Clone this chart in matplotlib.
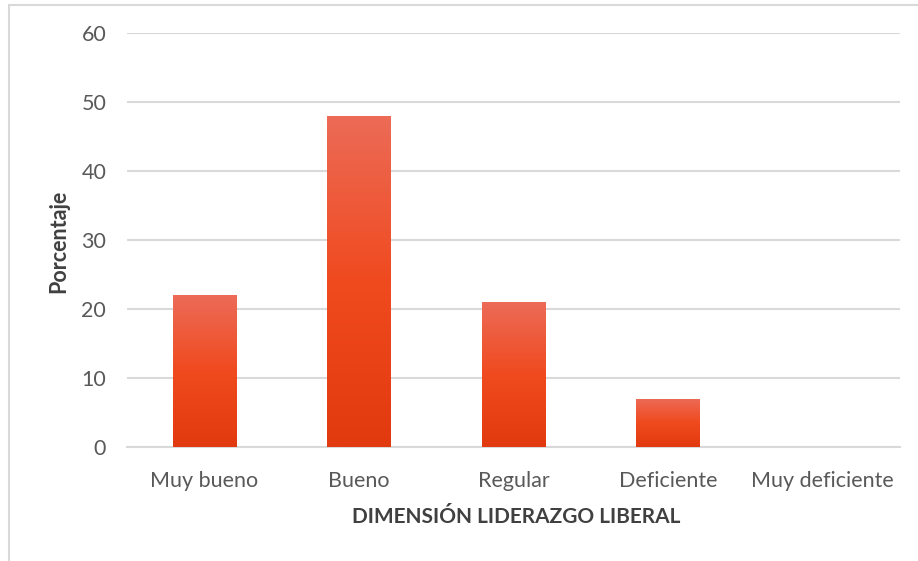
import matplotlib.pyplot as plt
import numpy as np
from matplotlib.colors import LinearSegmentedColormap
from matplotlib.patches import Rectangle

# data
categorias = ['Muy bueno', 'Bueno', 'Regular', 'Deficiente', 'Muy deficiente']
porcentaje = [22, 48, 21, 7, 0]
yticks = [0, 10, 20, 30, 40, 50, 60]

plt.rcParams['font.family'] = ['Lato', 'DejaVu Sans']

W, H = 918, 561
fig = plt.figure(figsize=(W / 100, H / 100), dpi=100)
ax = fig.add_axes([127 / W, 1 - 447 / H, 773 / W, 414 / H])

# chart border (light gray frame)
fig.add_artist(Rectangle((9 / W, -0.1), 1.2, (1 - 5 / H) + 0.1,
                         transform=fig.transFigure, fill=False,
                         edgecolor='#D9D9D9', linewidth=1.5))

# vertical gradient for the bars: light at top, saturated in middle, darker at base
cmap = LinearSegmentedColormap.from_list(
    'naranja', ['#E13A0E', '#F04A1F', '#EC6B57'])
grad = np.linspace(0, 1, 256).reshape(-1, 1)

x = np.arange(len(categorias))
ancho = 0.41
barras = ax.bar(x, porcentaje, width=ancho, color='none', edgecolor='none', zorder=3)
for b, v in zip(barras, porcentaje):
    if v <= 0:
        continue
    im = ax.imshow(grad, cmap=cmap, origin='lower', aspect='auto',
                   extent=[b.get_x(), b.get_x() + b.get_width(), 0, v], zorder=3)
    im.set_clip_path(b)

ax.set_xlim(-0.5, len(categorias) - 0.5)
ax.set_ylim(0, 60)
ax.set_yticks(yticks)
ax.set_xticks(x)
ax.set_xticklabels(categorias)

ax.grid(axis='y', color='#D9D9D9', linewidth=1.5, zorder=0)
ax.set_axisbelow(True)
for s in ['top', 'right', 'left']:
    ax.spines[s].set_visible(False)
ax.spines['bottom'].set_color('#D9D9D9')
ax.spines['bottom'].set_linewidth(1.5)
ax.tick_params(axis='both', length=0, labelsize=15.5, colors='#595959')
ax.tick_params(axis='y', pad=15)
ax.tick_params(axis='x', pad=17.5)

# axis titles
fig.text(59 / W, 1 - 241 / H, 'Porcentaje', rotation=90, ha='center', va='center',
         fontsize=15.5, fontweight='bold', color='#404040')
fig.text(516 / W, 1 - 517 / H, 'DIMENSIÓN LIDERAZGO LIBERAL', ha='center', va='center',
         fontsize=15, fontweight='bold', color='#404040')

fig.savefig('out.png', dpi=100)
